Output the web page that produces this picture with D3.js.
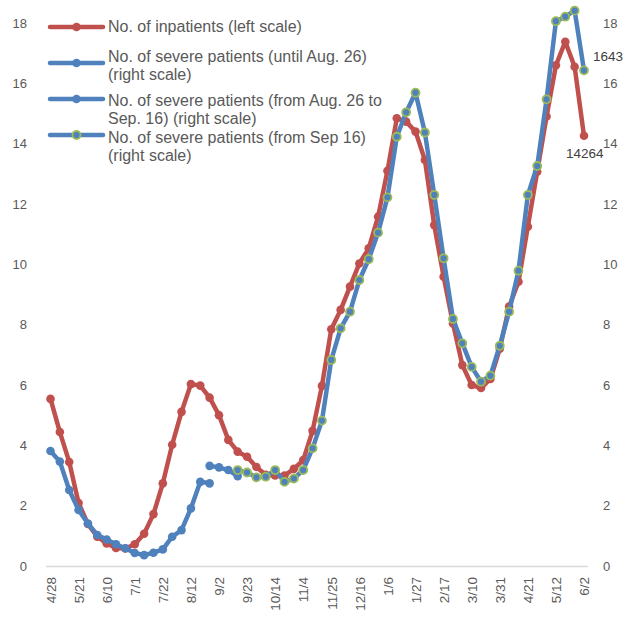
<!DOCTYPE html>
<html>
<head>
<meta charset="utf-8">
<script src="https://cdn.jsdelivr.net/npm/d3@7"></script>
<style>
  html, body { margin: 0; padding: 0; background: #fff; }
  svg { display: block; font-family: "Liberation Sans", Arial, sans-serif; }
</style>
</head>
<body>
<svg id="chart" width="624" height="620"></svg>
<script>
const categories = ["4/28","5/7","5/14","5/21","5/27","6/3","6/10","6/17","6/24","7/1","7/8","7/15","7/22","7/29","8/5","8/12","8/19","8/26","9/2","9/9","9/16","9/23","9/30","10/7","10/14","10/21","10/28","11/4","11/11","11/18","11/25","12/2","12/9","12/16","12/23","12/30","1/6","1/13","1/20","1/27","2/3","2/10","2/17","2/24","3/3","3/10","3/17","3/24","3/31","4/7","4/14","4/21","4/28","5/5","5/12","5/19","5/26","6/2"];

// No. of inpatients (left scale, thousands)
const inpatients = [5.54,4.44,3.45,2.09,1.39,0.97,0.75,0.60,0.58,0.72,1.07,1.72,2.74,4.02,5.11,6.03,5.98,5.58,5.00,4.18,3.79,3.62,3.28,3.02,3.00,3.00,3.22,3.51,4.48,5.97,7.85,8.49,9.26,10.03,10.53,11.58,13.10,14.84,14.73,14.40,13.46,11.30,9.59,8.04,6.66,6.00,5.90,6.20,7.20,8.60,9.42,11.25,13.07,14.90,16.60,17.38,16.55,14.26];

// No. of severe patients (right scale, hundreds)
const severeUntilAug26 = [3.81,3.46,2.52,1.86,1.41,1.03,0.88,0.72,0.59,0.43,0.36,0.44,0.55,0.97,1.19,1.91,2.79,2.74];
const severeAug26toSep16 = [3.32,3.27,3.18,2.98];       // indices 17..20
const severeFromSep16 = [3.18,3.10,2.94,2.96,3.18,2.79,2.90,3.18,3.90,4.82,6.83,7.88,8.43,9.48,10.17,11.05,12.22,14.23,15.04,15.69,14.37,12.30,10.20,8.19,7.38,6.60,6.11,6.31,7.30,8.43,9.79,12.30,13.26,15.47,18.06,18.21,18.41,16.43]; // indices 20..57

const leftTicks = [0,2,4,6,8,10,12,14,16,18];
const rightTicks = [0,2,4,6,8,10,12,14,16,18];

const legendLabels = [
  ["No. of inpatients (left scale)"],
  ["No. of severe patients (until Aug. 26)", "(right scale)"],
  ["No. of severe patients (from Aug. 26 to", "Sep. 16) (right scale)"],
  ["No. of severe patients (from Sep 16)", "(right scale)"]
];
const lastInpatientLabel = "14264";
const lastSevereLabel = "1643";

const RED = "#c0504d", BLUE = "#4f81bd", GREEN = "#9bbb59", TXT = "#595959";

const svg = d3.select("#chart");
const x = d3.scalePoint().domain(categories.map((d, i) => i)).range([50.5, 584]);
const yL = d3.scaleLinear().domain([0, 18]).range([566, 23]);
const yR = d3.scaleLinear().domain([0, 18]).range([566, 23]);

// left axis
const gl = svg.append("g").attr("transform", "translate(35,0)")
  .call(d3.axisLeft(yL).tickValues(leftTicks).tickSize(0).tickPadding(8));
gl.select(".domain").remove();
gl.selectAll("text").attr("fill", TXT).style("font-size", "13px").style("font-family", "Liberation Sans, Arial, sans-serif");

// right axis
const gr = svg.append("g").attr("transform", "translate(595,0)")
  .call(d3.axisRight(yR).tickValues(rightTicks).tickSize(0).tickPadding(8));
gr.select(".domain").remove();
gr.selectAll("text").attr("fill", TXT).style("font-size", "13px").style("font-family", "Liberation Sans, Arial, sans-serif");

// bottom axis
svg.append("line").attr("x1", 46).attr("x2", 588).attr("y1", 566.5).attr("y2", 566.5)
  .attr("stroke", "#d9d9d9").attr("stroke-width", 1.5);
const tickIdx = categories.map((d, i) => i).filter(i => i % 3 === 0);
const gb = svg.append("g").attr("transform", "translate(0,566)")
  .call(d3.axisBottom(x).tickValues(tickIdx).tickFormat(i => categories[i]).tickSize(0));
gb.select(".domain").remove();
gb.selectAll("text")
  .attr("transform", "rotate(-90)")
  .attr("x", -11).attr("y", 0).attr("dy", "0.35em")
  .attr("text-anchor", "end")
  .attr("fill", TXT).style("font-size", "13.5px").style("font-family", "Liberation Sans, Arial, sans-serif");

function drawSeries(vals, offset, scale, color, markerFn) {
  const pts = vals.map((v, i) => [x(i + offset), scale(v)]);
  svg.append("path").attr("d", d3.line()(pts)).attr("fill", "none")
    .attr("stroke", color).attr("stroke-width", 4.5)
    .attr("stroke-linejoin", "round").attr("stroke-linecap", "round");
  const g = svg.append("g");
  pts.forEach(p => markerFn(g, p[0], p[1]));
}
const dot = c => (g, cx, cy) => g.append("circle").attr("cx", cx).attr("cy", cy).attr("r", 4.3).attr("fill", c);
const ring = (g, cx, cy) => g.append("circle").attr("cx", cx).attr("cy", cy).attr("r", 4).attr("fill", BLUE).attr("stroke", GREEN).attr("stroke-width", 1.8);

drawSeries(inpatients, 0, yL, RED, dot(RED));
drawSeries(severeUntilAug26, 0, yR, BLUE, dot(BLUE));
drawSeries(severeAug26toSep16, 17, yR, BLUE, dot(BLUE));
drawSeries(severeFromSep16, 20, yR, BLUE, ring);

// data labels
svg.append("text").attr("x", 566).attr("y", 158).text(lastInpatientLabel)
  .attr("fill", "#404040").style("font-size", "13.5px");
svg.append("text").attr("x", 593).attr("y", 61).text(lastSevereLabel)
  .attr("fill", "#404040").style("font-size", "13.5px");

// legend
const legendRows = [
  { y: 27, color: RED, marker: "dot", lines: legendLabels[0], ty: 31.5 },
  { y: 63, color: BLUE, marker: "dot", lines: legendLabels[1], ty: 62 },
  { y: 99, color: BLUE, marker: "dot", lines: legendLabels[2], ty: 105.5 },
  { y: 135, color: BLUE, marker: "ring", lines: legendLabels[3], ty: 142.5 }
];
const lg = svg.append("g");
legendRows.forEach(r => {
  lg.append("line").attr("x1", 50).attr("x2", 103).attr("y1", r.y).attr("y2", r.y)
    .attr("stroke", r.color).attr("stroke-width", 4.5).attr("stroke-linecap", "round");
  if (r.marker === "dot") lg.append("circle").attr("cx", 76.5).attr("cy", r.y).attr("r", 4.3).attr("fill", r.color);
  else ring(lg, 76.5, r.y);
  r.lines.forEach((t, k) => {
    lg.append("text").attr("x", 108).attr("y", r.ty + k * 18).text(t)
      .attr("fill", TXT).style("font-size", "16px");
  });
});
</script>
</body>
</html>
